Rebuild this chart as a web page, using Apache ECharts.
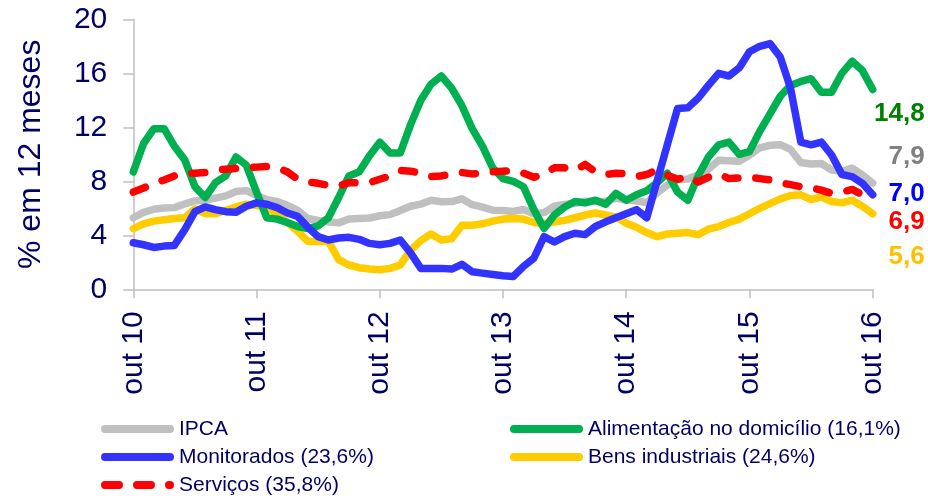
<!DOCTYPE html>
<html>
<head>
<meta charset="utf-8">
<script src="https://cdn.jsdelivr.net/npm/echarts@6/dist/echarts.min.js"></script>
<style>
html,body{margin:0;padding:0;background:#fff;}
#c{width:928px;height:498px;}
</style>
</head>
<body>
<div id="c"></div>
<script>
const months = [
 'out 10','nov 10','dez 10','jan 11','fev 11','mar 11','abr 11','mai 11','jun 11','jul 11','ago 11','set 11',
 'out 11','nov 11','dez 11','jan 12','fev 12','mar 12','abr 12','mai 12','jun 12','jul 12','ago 12','set 12',
 'out 12','nov 12','dez 12','jan 13','fev 13','mar 13','abr 13','mai 13','jun 13','jul 13','ago 13','set 13',
 'out 13','nov 13','dez 13','jan 14','fev 14','mar 14','abr 14','mai 14','jun 14','jul 14','ago 14','set 14',
 'out 14','nov 14','dez 14','jan 15','fev 15','mar 15','abr 15','mai 15','jun 15','jul 15','ago 15','set 15',
 'out 15','nov 15','dez 15','jan 16','fev 16','mar 16','abr 16','mai 16','jun 16','jul 16','ago 16','set 16',
 'out 16'
];
const yTicks = [0, 4, 8, 12, 16, 20];

const ipca = [
 5.30,5.70,5.93,6.02,6.05,6.32,6.55,6.62,6.75,6.92,7.24,7.31,6.97,
 6.64,6.50,6.22,5.85,5.24,5.10,4.99,4.92,5.20,5.24,5.28,5.45,
 5.53,5.84,6.15,6.31,6.59,6.49,6.50,6.70,6.27,6.09,5.86,5.84,
 5.77,5.91,5.59,5.68,6.15,6.28,6.37,6.52,6.50,6.51,6.75,6.59,
 6.56,6.41,7.14,7.70,8.13,8.17,8.47,8.89,9.56,9.53,9.49,9.93,
 10.48,10.67,10.71,10.36,9.39,9.28,9.32,8.84,8.74,8.97,8.48,7.87
];
const alimentacao = [
 8.7,10.8,11.9,11.9,10.6,9.6,7.6,6.8,7.9,8.4,9.8,9.2,7.2,
 5.3,5.2,4.95,4.65,4.5,4.7,5.3,6.8,8.4,8.7,9.9,10.9,
 10.1,10.1,12.2,14.0,15.2,15.8,14.9,13.6,11.9,10.6,9.0,8.2,
 8.0,7.6,5.9,4.5,5.5,6.1,6.5,6.4,6.6,6.3,7.1,6.6,
 7.0,7.3,7.9,8.6,7.2,6.6,8.4,9.8,10.7,10.9,10.0,10.2,
 11.7,13.0,14.3,15.1,15.4,15.6,14.6,14.6,16.0,16.9,16.2,14.8
];
const monitorados = [
 3.45,3.3,3.1,3.2,3.25,4.4,5.75,6.1,5.9,5.75,5.7,6.15,6.4,
 6.3,6.05,5.65,5.4,4.6,3.9,3.65,3.8,3.85,3.7,3.4,3.3,
 3.4,3.65,2.7,1.55,1.55,1.55,1.5,1.85,1.3,1.2,1.1,1.0,
 0.95,1.7,2.3,3.9,3.5,3.9,4.15,4.05,4.65,5.0,5.3,5.6,
 5.9,5.3,8.0,10.7,13.4,13.45,14.15,15.1,16.0,15.8,16.4,17.6,
 18.0,18.2,17.2,14.9,10.9,10.7,10.9,9.95,8.5,8.35,7.85,7.0
];
const bens = [
 4.5,4.85,5.05,5.15,5.25,5.3,5.95,5.6,5.6,5.85,6.1,6.3,6.2,
 6.05,5.6,4.95,4.3,3.55,3.55,3.55,2.2,1.8,1.6,1.5,1.45,
 1.55,1.8,2.9,3.6,4.1,3.65,3.75,4.75,4.75,4.85,5.05,5.2,
 5.25,5.2,4.95,4.85,5.0,5.1,5.3,5.5,5.65,5.5,5.35,4.9,
 4.6,4.2,3.9,4.1,4.15,4.2,4.05,4.45,4.65,4.95,5.2,5.6,
 6.0,6.35,6.7,6.95,7.0,6.65,6.85,6.5,6.4,6.6,6.15,5.6
];
const servicos = [
 7.2,7.5,7.85,8.1,8.4,8.6,8.6,8.65,8.8,8.9,8.95,9.0,9.05,
 9.1,9.0,8.7,8.15,7.95,7.85,7.7,7.65,7.9,7.9,7.9,8.15,
 8.4,8.8,8.75,8.6,8.35,8.4,8.55,8.65,8.55,8.6,8.7,8.75,
 8.8,8.6,8.3,8.5,9.0,9.0,8.8,9.25,8.7,8.5,8.6,8.55,
 8.35,8.5,8.85,8.45,8.15,8.35,7.95,8.3,8.55,8.2,8.25,8.3,
 8.2,8.1,7.9,7.75,7.6,7.5,7.35,7.1,7.2,7.4,7.0,6.9
];

const names = {
  ipca: 'IPCA',
  alim: 'Alimentação no domicílio (16,1%)',
  mon: 'Monitorados (23,6%)',
  bens: 'Bens industriais (24,6%)',
  serv: 'Serviços (35,8%)'
};

const FONT = 'Liberation Sans, Arial, sans-serif';
const NAVY = '#000066';
const AXIS = '#BFBFBF';
const fmt = p => Number(p.value).toFixed(1).replace('.', ',');

const SOLID_ICON = 'path://M4,0H69A4,4,0,0,1,69,8H4A4,4,0,0,1,4,0Z';
const DASH_ICON = 'path://M4,0H18A4,4,0,0,1,18,8H4A4,4,0,0,1,4,0Z M36,0H50A4,4,0,0,1,50,8H36A4,4,0,0,1,36,0Z M68,0H69A4,4,0,0,1,69,8H68A4,4,0,0,1,68,0Z';

function mkSeries(name, data, color, labelColor, dy, z, dashed) {
  return {
    name: name, type: 'line', data: data, symbol: 'none', z: z,
    lineStyle: dashed
      ? { color: color, width: 7.5, type: [13, 18], cap: 'round', join: 'round' }
      : { color: color, width: 7.5, cap: 'round', join: 'round' },
    itemStyle: { color: color },
    emphasis: { disabled: true },
    endLabel: {
      show: true, formatter: fmt, color: labelColor,
      fontFamily: FONT, fontWeight: 'bold', fontSize: 26,
      align: 'right', verticalAlign: 'middle', distance: 0,
      offset: [52, dy]
    }
  };
}

const legendCommon = {
  orient: 'vertical', top: 418, padding: 0,
  itemWidth: 73, itemHeight: 8, itemGap: 6,
  textStyle: { color: NAVY, fontSize: 21, fontFamily: FONT, lineHeight: 22 },
  selectedMode: false
};

const chart = echarts.init(document.getElementById('c'), null, { renderer: 'canvas' });
chart.setOption({
  animation: false,
  backgroundColor: '#ffffff',
  textStyle: { fontFamily: FONT },
  grid: { left: 133.3, right: 55.3, top: 19.3, bottom: 208.7, containLabel: false },
  legend: [
    Object.assign({}, legendCommon, {
      left: 101,
      data: [
        { name: names.ipca, icon: SOLID_ICON },
        { name: names.mon, icon: SOLID_ICON },
        { name: names.serv, icon: DASH_ICON }
      ]
    }),
    Object.assign({}, legendCommon, {
      left: 510,
      data: [
        { name: names.alim, icon: SOLID_ICON },
        { name: names.bens, icon: SOLID_ICON }
      ]
    })
  ],
  xAxis: {
    type: 'category', data: months, boundaryGap: false,
    axisLine: { lineStyle: { color: AXIS, width: 1.5 } },
    axisTick: { show: true, length: 9, interval: (i) => i % 12 === 0, lineStyle: { color: AXIS, width: 1.5 } },
    axisLabel: {
      interval: (i) => i % 12 === 0, rotate: 90, margin: 22,
      color: NAVY, fontSize: 30, fontFamily: FONT
    },
    splitLine: { show: false }
  },
  yAxis: {
    type: 'value', min: yTicks[0], max: yTicks[yTicks.length - 1], interval: yTicks[1] - yTicks[0],
    name: '% em 12 meses', nameLocation: 'middle', nameRotate: 90, nameGap: 86,
    nameTextStyle: { color: NAVY, fontSize: 32, fontFamily: FONT },
    axisLine: { show: true, lineStyle: { color: AXIS, width: 1.5 } },
    axisTick: { show: true, length: 10, lineStyle: { color: AXIS, width: 1.5 } },
    axisLabel: { color: NAVY, fontSize: 30, fontFamily: FONT, margin: 26 },
    splitLine: { show: false }
  },
  series: [
    mkSeries(names.ipca, ipca, '#C0C0C0', '#808080', -26, 1, false),
    mkSeries(names.bens, bens, '#FFCC00', '#FFC000', 43, 2, false),
    mkSeries(names.alim, alimentacao, '#00B050', '#008000', 24, 3, false),
    mkSeries(names.serv, servicos, '#FF0000', '#FF0000', 26, 4, true),
    mkSeries(names.mon, monitorados, '#3333FF', '#0000FF', -1, 5, false)
  ]
});
</script>
</body>
</html>
